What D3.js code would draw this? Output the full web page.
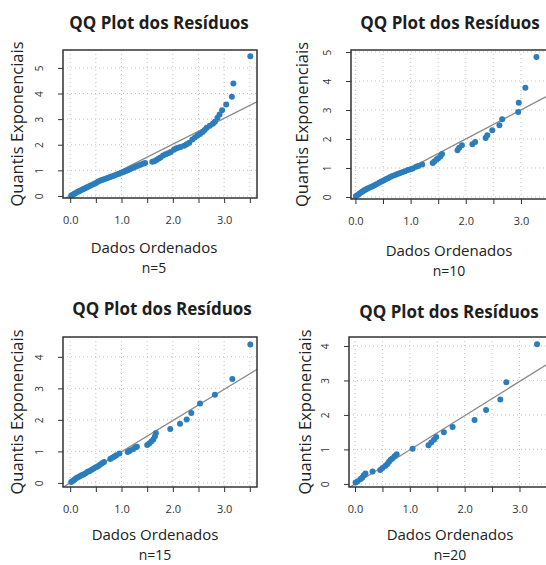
<!DOCTYPE html>
<html>
<head>
<meta charset="utf-8">
<script src="https://cdn.jsdelivr.net/npm/d3@7.9.0/dist/d3.min.js"></script>
<style>
  body { margin: 0; background: #fff; }
  svg { display: block; font-family: "Open Sans", "Noto Sans", sans-serif; }
</style>
</head>
<body>
<svg id="chart" width="546" height="565"></svg>
<script>
// tick values / labels
const xTickVals = [0, 0.5, 1, 1.5, 2, 2.5, 3, 3.5];
const xTickLabels = { 0: "0.0", 1: "1.0", 2: "2.0", 3: "3.0" };
const yTickVals = [0, 1, 2, 3, 4, 5];
const titleText = "QQ Plot dos Resíduos";
const yLabelText = "Quantis Exponenciais";
const xLabelText = "Dados Ordenados";
const sampleLabels = ["n=5", "n=10", "n=15", "n=20"];

// reference line (intercept, slope) per panel
const refIntercept = [0, 0, 0, 0];
const refSlope = [1.01, 1.0, 0.99, 0.99];

// n=5
const ordenados5 = [0.02,0.05,0.08,0.11,0.14,0.17,0.20,0.24,0.27,0.31,0.34,0.38,0.42,0.46,0.50,0.54,0.58,0.62,0.66,0.70,
  0.74,0.78,0.82,0.86,0.91,0.95,1.00,1.04,1.08,1.12,1.16,1.20,1.24,1.28,1.32,1.37,1.42,1.46,1.60,1.64,
  1.68,1.72,1.76,1.81,1.86,1.91,1.96,2.02,2.06,2.10,2.15,2.22,2.27,2.32,2.38,2.43,2.48,2.53,2.58,2.62,
  2.66,2.72,2.78,2.82,2.87,2.91,2.96,3.04,3.15,3.18,3.51];
const quantis5 = [0.02,0.05,0.09,0.12,0.15,0.18,0.21,0.25,0.28,0.32,0.35,0.39,0.43,0.47,0.51,0.55,0.59,0.62,0.65,0.68,
  0.71,0.74,0.77,0.80,0.84,0.87,0.91,0.94,0.97,1.00,1.04,1.08,1.11,1.15,1.18,1.22,1.26,1.29,1.34,1.36,
  1.40,1.45,1.50,1.58,1.63,1.67,1.72,1.80,1.85,1.88,1.91,1.96,2.02,2.08,2.20,2.28,2.36,2.42,2.50,2.58,
  2.66,2.74,2.82,2.90,3.05,3.18,3.35,3.57,3.87,4.39,5.46];

// n=10
const ordenados10 = [0.01,0.04,0.07,0.10,0.13,0.16,0.19,0.22,0.26,0.30,0.34,0.38,0.43,0.47,0.51,0.55,0.59,0.63,0.67,0.72,
  0.76,0.80,0.85,0.90,0.95,1.00,1.04,1.10,1.14,1.21,1.40,1.43,1.47,1.50,1.54,1.57,1.85,1.88,1.93,2.12,
  2.17,2.36,2.39,2.48,2.61,2.66,2.95,2.96,3.08,3.28];
const quantis10 = [0.03,0.07,0.11,0.15,0.19,0.23,0.26,0.29,0.33,0.36,0.40,0.44,0.49,0.53,0.57,0.61,0.65,0.69,0.72,0.76,
  0.79,0.82,0.85,0.89,0.93,0.96,0.98,1.04,1.07,1.12,1.17,1.22,1.29,1.34,1.40,1.48,1.61,1.70,1.78,1.82,
  1.90,2.03,2.13,2.30,2.47,2.68,2.93,3.25,3.77,4.83];

// n=15
const ordenados15 = [0.02,0.05,0.08,0.11,0.14,0.18,0.22,0.26,0.30,0.34,0.38,0.42,0.46,0.50,0.54,0.58,0.62,0.66,0.78,0.82,
  0.86,0.90,0.96,1.12,1.16,1.22,1.27,1.30,1.50,1.54,1.58,1.62,1.65,1.67,1.95,2.14,2.27,2.36,2.53,2.82,
  3.16,3.51];
const quantis15 = [0.03,0.06,0.10,0.14,0.17,0.20,0.24,0.27,0.31,0.35,0.38,0.42,0.46,0.50,0.53,0.58,0.62,0.66,0.76,0.80,
  0.84,0.88,0.93,0.98,1.02,1.07,1.12,1.15,1.20,1.25,1.31,1.38,1.47,1.58,1.71,1.88,2.01,2.22,2.52,2.80,
  3.30,4.39];

// n=20
const ordenados20 = [0.01,0.05,0.10,0.13,0.16,0.19,0.32,0.46,0.50,0.55,0.59,0.62,0.65,0.68,0.72,0.76,1.05,1.34,1.39,1.44,
  1.48,1.62,1.78,2.18,2.39,2.65,2.76,3.32];
const quantis20 = [0.04,0.08,0.14,0.18,0.25,0.30,0.36,0.40,0.46,0.52,0.58,0.64,0.70,0.74,0.80,0.86,1.02,1.12,1.20,1.28,
  1.36,1.50,1.65,1.85,2.14,2.45,2.95,4.05];

const series = [
  [ordenados5, quantis5],
  [ordenados10, quantis10],
  [ordenados15, quantis15],
  [ordenados20, quantis20]
];

// panel geometry (pixels) and visible domains
const panels = [
  { left: 63,  right: 257, top: 50,  bottom: 198, xDom: [-0.14, 3.64], yDom: [-0.08, 5.70],
    titleY: 29, titleX: 159, yLabX: 23, xLabY: 253, nY: 273, cx: 154 },
  { left: 351, right: 548, top: 50,  bottom: 199, xDom: [-0.08, 3.49], yDom: [-0.07, 5.07],
    titleY: 29, titleX: 450, yLabX: 308, xLabY: 256, nY: 276, cx: 449 },
  { left: 63,  right: 257, top: 337, bottom: 487, xDom: [-0.14, 3.64], yDom: [-0.13, 4.63],
    titleY: 315, titleX: 162, yLabX: 23, xLabY: 540, nY: 560, cx: 155 },
  { left: 349, right: 548, top: 337, bottom: 487, xDom: [-0.11, 3.52], yDom: [-0.09, 4.26],
    titleY: 318, titleX: 449, yLabX: 311, xLabY: 540, nY: 560, cx: 450 }
];

const svg = d3.select("#chart");
svg.append("rect").attr("width", 546).attr("height", 565).attr("fill", "#fff");

panels.forEach((p, i) => {
  const x = d3.scaleLinear().domain(p.xDom).range([p.left, p.right]);
  const y = d3.scaleLinear().domain(p.yDom).range([p.bottom, p.top]);
  const [xs, ys] = series[i];
  const pts = xs.map((d, k) => ({ x: d, y: ys[k] }));

  const g = svg.append("g");
  const clipId = "clip" + i;
  svg.append("clipPath").attr("id", clipId)
    .append("rect")
    .attr("x", p.left).attr("y", p.top)
    .attr("width", p.right - p.left).attr("height", p.bottom - p.top);

  const xt = xTickVals.filter(v => v >= p.xDom[0] && v <= p.xDom[1]);
  const yt = yTickVals.filter(v => v >= p.yDom[0] && v <= p.yDom[1]);

  // dotted grid
  g.append("g").selectAll("line").data(xt).join("line")
    .attr("x1", d => x(d)).attr("x2", d => x(d))
    .attr("y1", p.top).attr("y2", p.bottom)
    .attr("stroke", "#c4c4c4").attr("stroke-dasharray", "1,3");
  g.append("g").selectAll("line").data(yt).join("line")
    .attr("y1", d => y(d)).attr("y2", d => y(d))
    .attr("x1", p.left).attr("x2", p.right)
    .attr("stroke", "#c4c4c4").attr("stroke-dasharray", "1,3");

  // reference line
  g.append("line")
    .attr("clip-path", `url(#${clipId})`)
    .attr("x1", x(p.xDom[0])).attr("y1", y(refIntercept[i] + refSlope[i] * p.xDom[0]))
    .attr("x2", x(p.xDom[1])).attr("y2", y(refIntercept[i] + refSlope[i] * p.xDom[1]))
    .attr("stroke", "#8a8a8a").attr("stroke-width", 1.3);

  // points
  g.append("g").attr("clip-path", `url(#${clipId})`)
    .selectAll("circle").data(pts).join("circle")
    .attr("cx", d => x(d.x)).attr("cy", d => y(d.y))
    .attr("r", 3)
    .attr("fill", "#2b7dbc");

  // axes
  const xAxis = d3.axisBottom(x).tickValues(xt).tickSize(5)
    .tickFormat(d => xTickLabels[d] || "");
  const gx = g.append("g").attr("transform", `translate(0,${p.bottom})`).call(xAxis);
  gx.select(".domain").remove();
  gx.selectAll("line").attr("stroke", "#333");
  gx.selectAll("text").attr("y", 22).attr("dy", "0.32em")
    .attr("font-size", 11).attr("fill", "#333")
    .attr("font-family", "'Open Sans', sans-serif");

  const yAxis = d3.axisLeft(y).tickValues(yt).tickSize(5).tickFormat(d3.format("d"));
  const gy = g.append("g").attr("transform", `translate(${p.left},0)`).call(yAxis);
  gy.select(".domain").remove();
  gy.selectAll("line").attr("stroke", "#333");
  gy.selectAll("text")
    .attr("x", 0).attr("y", -20).attr("dy", 0)
    .attr("text-anchor", "middle")
    .attr("transform", "rotate(-90)")
    .attr("font-size", 10).attr("fill", "#333")
    .attr("font-family", "'Open Sans', sans-serif");

  // box
  g.append("rect")
    .attr("x", p.left).attr("y", p.top)
    .attr("width", p.right - p.left).attr("height", p.bottom - p.top)
    .attr("fill", "none").attr("stroke", "#333").attr("stroke-width", 1.5);

  // labels
  g.append("text").attr("x", p.titleX).attr("y", p.titleY)
    .attr("text-anchor", "middle").attr("font-size", 17).attr("font-weight", "bold")
    .attr("fill", "#1e1e1e").text(titleText);

  g.append("text")
    .attr("transform", `translate(${p.yLabX},${(p.top + p.bottom) / 2}) rotate(-90)`)
    .attr("text-anchor", "middle").attr("font-size", 16.5).attr("fill", "#222")
    .text(yLabelText);

  g.append("text").attr("x", p.cx).attr("y", p.xLabY)
    .attr("text-anchor", "middle").attr("font-size", 15).attr("fill", "#222")
    .text(xLabelText);

  g.append("text").attr("x", p.cx).attr("y", p.nY)
    .attr("text-anchor", "middle").attr("font-size", 14).attr("fill", "#222")
    .text(sampleLabels[i]);
});
</script>
</body>
</html>
